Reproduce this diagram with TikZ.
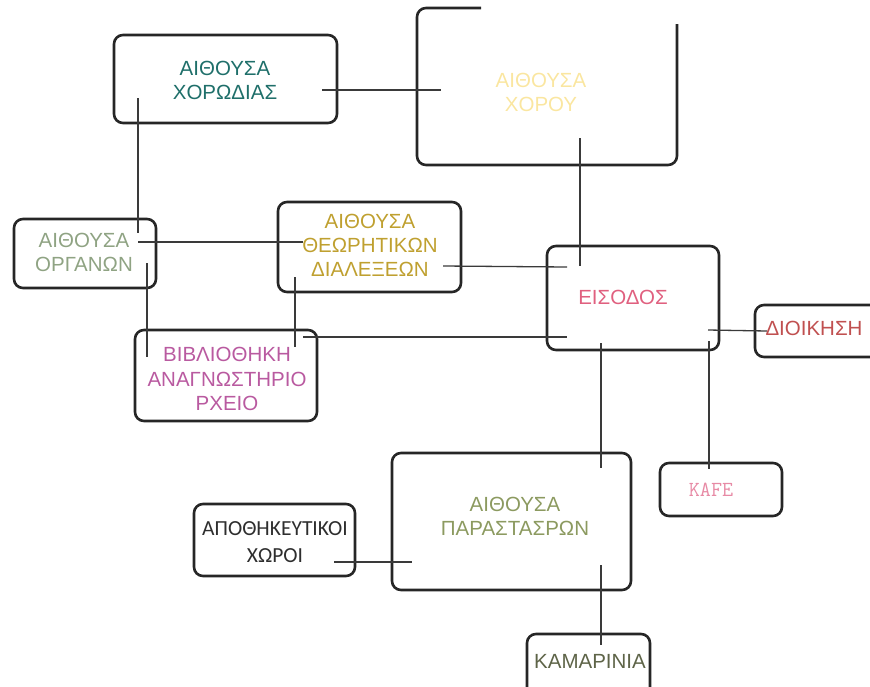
\documentclass[tikz,border=0pt]{standalone}
\usepackage{fontspec}
\setmainfont{Liberation Sans}
\newfontfamily\calfont{Carlito}
\definecolor{boxc}{HTML}{262626}
\definecolor{linec}{HTML}{3A3A3A}
\definecolor{cteal}{HTML}{1F6F6A}
\definecolor{cyell}{HTML}{FAE6A0}
\definecolor{csage}{HTML}{8FA383}
\definecolor{cgold}{HTML}{BFA030}
\definecolor{cmag}{HTML}{B95AA0}
\definecolor{cpink}{HTML}{E0607F}
\definecolor{cred}{HTML}{C05050}
\definecolor{ckafe}{HTML}{E78AA5}
\definecolor{colive}{HTML}{8C9A60}
\definecolor{cdark}{HTML}{2E2E2E}
\definecolor{ckam}{HTML}{5E6448}
\begin{document}
\begin{tikzpicture}[x=1pt,y=-1pt,
  roombox/.style={draw=boxc, line width=2.6pt, rounded corners=9pt, inner sep=0pt},
  lbl/.style={align=center, inner sep=0pt, font=\fontsize{20.5}{23.5}\selectfont},
  conn/.style={draw=linec, line width=1.3pt}]
\useasboundingbox (0,0) rectangle (870,686);
\clip (0,0) rectangle (870,686);
% boxes
\node[roombox, minimum width=223pt, minimum height=88pt] (bxor) at (225.5,79) {};
\draw[draw=boxc, line width=2.6pt, rounded corners=9pt] (481,8) -- (417,8) -- (417,165) -- (677,165) -- (677,24);
\node[roombox, minimum width=142pt, minimum height=69pt] (borg) at (85,253.5) {};
\node[roombox, minimum width=183pt, minimum height=90pt] (bthe) at (369.5,247) {};
\node[roombox, minimum width=182pt, minimum height=91pt] (bvib) at (226,375.5) {};
\node[roombox, minimum width=172pt, minimum height=104pt] (beis) at (633,298) {};
\node[roombox, minimum width=145pt, minimum height=52pt] (bdio) at (827.5,331) {};
\node[roombox, minimum width=122pt, minimum height=53pt] (bkaf) at (721,489.5) {};
\node[roombox, minimum width=239pt, minimum height=137pt] (bpar) at (511.5,521.5) {};
\node[roombox, minimum width=161pt, minimum height=72pt] (bapo) at (274.5,540) {};
\node[roombox, minimum width=123pt, minimum height=76pt] (bkam) at (588.5,672) {};
% connector ends
\coordinate (c1a) at (322,90);  \coordinate (c1b) at (441,90);
\coordinate (c2a) at (138,98);  \coordinate (c2b) at (138,233);
\coordinate (c3a) at (138,242); \coordinate (c3b) at (303,242);
\coordinate (c4a) at (147,263); \coordinate (c4b) at (147,357);
\coordinate (c5a) at (443,266); \coordinate (c5b) at (567,267);
\coordinate (c6a) at (295,277); \coordinate (c6b) at (295,347);
\coordinate (c7a) at (303,337); \coordinate (c7b) at (567,337);
\coordinate (c8a) at (580,138); \coordinate (c8b) at (580,266);
\coordinate (c9a) at (708,330); \coordinate (c9b) at (767,331);
\coordinate (c10a) at (709,341); \coordinate (c10b) at (709,469);
\coordinate (c11a) at (601,343); \coordinate (c11b) at (601,468);
\coordinate (c12a) at (601,565); \coordinate (c12b) at (601,645);
\coordinate (c13a) at (334,562); \coordinate (c13b) at (412,562);
\foreach \i in {1,...,13} {\draw[conn] (c\i a) -- (c\i b);}
% labels
\node[lbl, text=cteal] (txor) at (225,80.5) {ΑΙΘΟΥΣΑ\\ΧΟΡΩΔΙΑΣ};
\node[lbl, text=cyell] (tcho) at (541,92.5) {ΑΙΘΟΥΣΑ\\ΧΟΡΟΥ};
\node[lbl, text=csage] (torg) at (84,252.5) {ΑΙΘΟΥΣΑ\\ΟΡΓΑΝΩΝ};
\node[lbl, text=cgold, font=\fontsize{20.5}{24}\selectfont] (tthe) at (370,245.5) {ΑΙΘΟΥΣΑ\\ΘΕΩΡΗΤΙΚΩΝ\\ΔΙΑΛΕΞΕΩΝ};
\node[lbl, text=cmag, font=\fontsize{20.5}{24.5}\selectfont] (tvib) at (227,379) {ΒΙΒΛΙΟΘΗΚΗ\\ΑΝΑΓΝΩΣΤΗΡΙΟ\\ΡΧΕΙΟ};
\node[lbl, text=cpink] (teis) at (623,297) {ΕΙΣΟΔΟΣ};
\node[lbl, text=cred] (tdio) at (814,328) {ΔΙΟΙΚΗΣΗ};
\node[lbl, text=ckafe, font=\ttfamily\fontsize{21.5}{23}\selectfont] (tkaf) at (711,490) {KAFE};
\node[lbl, text=colive] (tpar) at (515,516.5) {ΑΙΘΟΥΣΑ\\ΠΑΡΑΣΤΑΣΡΩΝ};
\node[lbl, text=cdark, font=\calfont\fontsize{21.5}{27}\selectfont] (tapo) at (275,542.5) {ΑΠΟΘΗΚΕΥΤΙΚΟΙ\\ΧΩΡΟΙ};
\node[lbl, text=ckam] (tkam) at (590,661) {ΚΑΜΑΡΙΝΙΑ};
\end{tikzpicture}
\end{document}
